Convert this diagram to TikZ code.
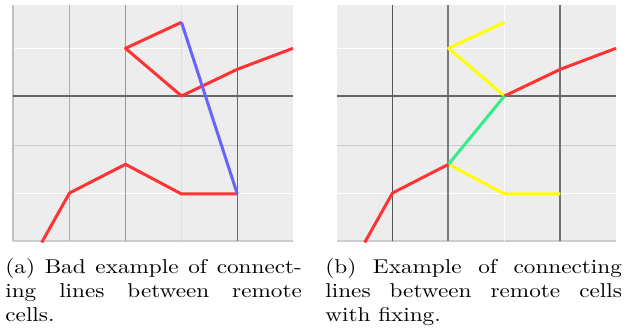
\documentclass[tikz,border=0pt]{standalone}
\usepackage{graphicx}
\definecolor{panelbg}{HTML}{EDEDED}
\definecolor{lred}{HTML}{FF3333}
\definecolor{lblue}{HTML}{6666FF}
\definecolor{lgreen}{HTML}{33EE88}
\definecolor{lyellow}{HTML}{FFFF00}
\tikzset{
  seg/.style={line width=1.5pt, line join=round},
  redseg/.style={seg, draw=lred},
  blueseg/.style={seg, draw=lblue},
  greenseg/.style={seg, draw=lgreen},
  yellowseg/.style={seg, draw=lyellow},
  gridln/.style={line width=0.65pt},
  panel/.style={fill=panelbg, draw=none},
  captext/.style={anchor=north west, inner sep=0pt, font=\fontsize{10}{12}\selectfont},
}
\begin{document}
\begin{tikzpicture}[x=0.5pt, y=-0.5pt]
\useasboundingbox (0,0) rectangle (627,331);

% ---------------- panel (a) ----------------
\fill[panel] (13,5) rectangle (293,241);
\draw[gridln, white] (13,48.3) -- (293,48.3);
\draw[gridln, white] (13,193.3) -- (293,193.3);
\draw[gridln, black!20] (13,145.5) -- (293,145.5);
\draw[gridln, black!20] (13,241) -- (293,241);
\draw[gridln, black!25] (13,5) -- (13,241);
\draw[gridln, black!32] (69.3,5) -- (69.3,241);
\draw[gridln, black!40] (125.3,5) -- (125.3,241);
\draw[gridln, black!13] (181.5,5) -- (181.5,241);
\draw[gridln, black!60] (237.3,5) -- (237.3,241);
\draw[gridln, black!60] (13,96) -- (293,96);

\coordinate (a1) at (41.7,242.5);
\coordinate (a2) at (69.5,193);
\coordinate (a3) at (125.5,164.3);
\coordinate (a4) at (181.5,194);
\coordinate (a5) at (237.3,194);
\coordinate (a6) at (181.5,22.3);
\coordinate (a7) at (125.5,48.3);
\coordinate (a8) at (181.5,96);
\coordinate (a9) at (237.3,69.3);
\coordinate (a10) at (293,48.3);

\draw[redseg] (a1) -- (a2) -- (a3) -- (a4) -- (a5);
\draw[redseg] (a6) -- (a7) -- (a8) -- (a9) -- (a10);
\draw[blueseg] (a5) -- (a6);

% ---------------- panel (b) ----------------
\fill[panel] (336.5,5) rectangle (616,241);
\draw[gridln, white] (336.5,48.3) -- (616,48.3);
\draw[gridln, white] (336.5,193.3) -- (616,193.3);
\draw[gridln, black!20] (336.5,145.5) -- (616,145.5);
\draw[gridln, black!20] (336.5,241) -- (616,241);
\draw[gridln, black!66] (392.3,5) -- (392.3,241);
\draw[gridln, black!52, line width=0.9pt] (448.3,5) -- (448.3,241);
\draw[gridln, white!90!black!5] (504.3,5) -- (504.3,241);
\draw[gridln, black!55] (560,5) -- (560,241);
\draw[gridln, black!60] (336.5,96) -- (616,96);

\coordinate (b1) at (364.7,242.5);
\coordinate (b2) at (392.5,193);
\coordinate (b3) at (448.5,164.3);
\coordinate (b4) at (504.5,194);
\coordinate (b5) at (560.3,194);
\coordinate (b6) at (504.5,22.3);
\coordinate (b7) at (448.5,48.3);
\coordinate (b8) at (504.5,96);
\coordinate (b9) at (560.3,69.3);
\coordinate (b10) at (616,48.3);

\draw[yellowseg] (b3) -- (b4) -- (b5);
\draw[yellowseg] (b6) -- (b7) -- (b8);
\draw[redseg] (b1) -- (b2) -- (b3);
\draw[redseg] (b8) -- (b9) -- (b10);
\draw[greenseg] (b3) -- (b8);

% ---------------- captions ----------------
\node[captext] (capa) at (5,257.7) {\scalebox{1.16}[1]{\parbox[t]{127.8pt}{(a) Bad example of connect-\linebreak ing lines between remote\linebreak cells.}}};
\node[captext] (capb) at (325,257.7) {\scalebox{1.16}[1]{\parbox[t]{127.8pt}{(b) Example of connecting\linebreak lines between remote cells\linebreak with fixing.}}};
\end{tikzpicture}
\end{document}
